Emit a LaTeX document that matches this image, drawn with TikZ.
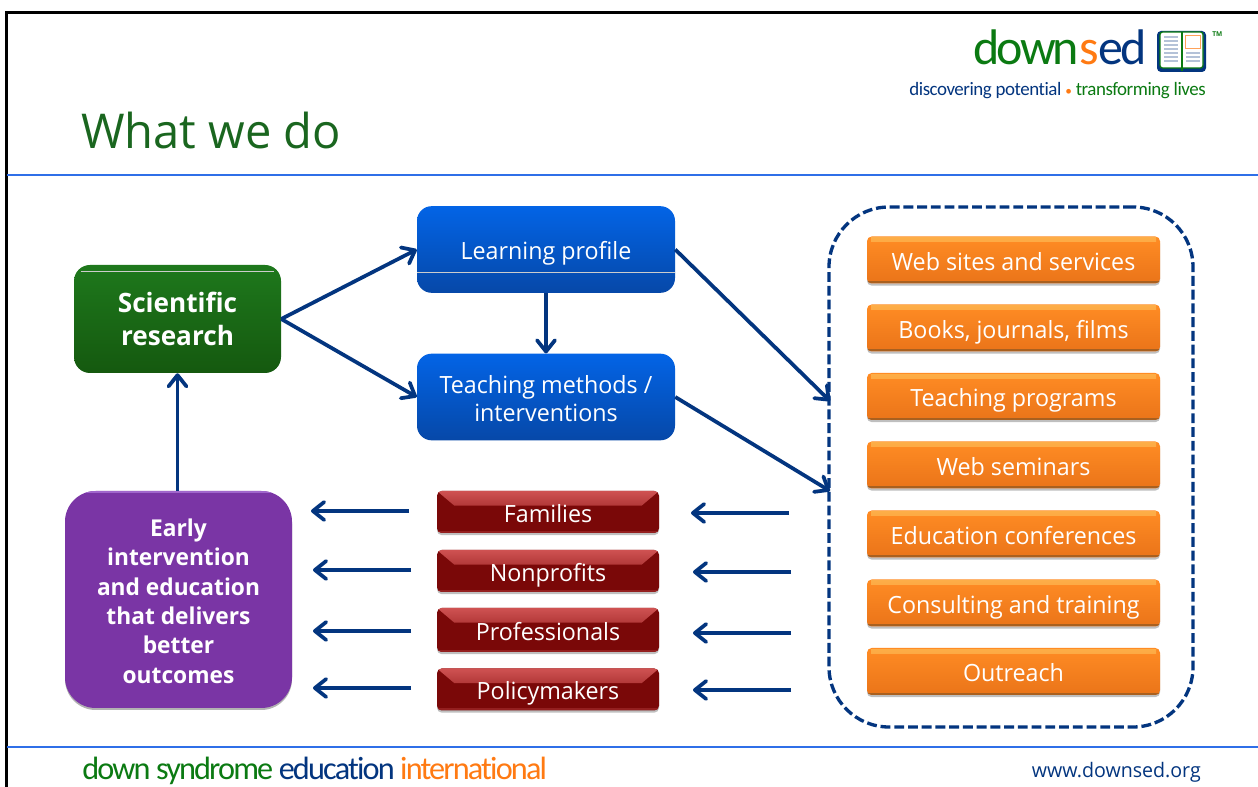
\documentclass[tikz,border=0pt]{standalone}
\usepackage{fontspec}
\usetikzlibrary{arrows.meta,shadows}
\setmainfont[FakeStretch=0.98]{Open Sans}
\newfontfamily\logofont[LetterSpace=-6,Ligatures=NoCommon]{Carlito}
\newfontfamily\tagfont[LetterSpace=-2.4,Ligatures=NoCommon]{Carlito}
\newfontfamily\footfont[LetterSpace=-5.7,Ligatures=NoCommon]{Carlito}
\newcommand\dn[1]{\raisebox{0pt}[15.4pt][0pt]{#1}}
\definecolor{navy}{HTML}{03357F}
\definecolor{titlegreen}{HTML}{1A661F}
\definecolor{logogreen}{HTML}{0B7A12}
\definecolor{logoorange}{HTML}{FF7A12}
\definecolor{rule}{HTML}{2F6FE8}
\definecolor{green1}{HTML}{1E781C}
\definecolor{green2}{HTML}{15590F}
\definecolor{blue1}{HTML}{0364E6}
\definecolor{blue2}{HTML}{0648A8}
\definecolor{orange1}{HTML}{FF8C24}
\definecolor{orange2}{HTML}{EA7419}
\definecolor{orange3}{HTML}{FDAE48}
\definecolor{orange4}{HTML}{A9601F}
\definecolor{red1}{HTML}{7A0808}
\definecolor{red3}{HTML}{CF5252}
\definecolor{red4}{HTML}{941F1F}
\definecolor{purple1}{HTML}{7A35A5}
\definecolor{purple2}{HTML}{A066CC}
\tikzset{
  x=0.75pt,y=-0.75pt,
  boxbase/.style={rectangle,inner sep=0pt,align=center,text=white,font=\fontsize{17.8}{21}\selectfont},
  sheen/.style={white!80!black,line width=0.6pt,sharp corners},
  greenbox/.style={boxbase,minimum width=155.25pt,minimum height=81pt,rounded corners=12pt,top color=green1,bottom color=green2,
    font=\fontsize{20}{24.6}\selectfont\bfseries,
    path picture={\draw[sheen] ([xshift=5pt,yshift=-5pt]path picture bounding box.north west) -- ([xshift=-5pt,yshift=-5pt]path picture bounding box.north east);}},
  bluebox/.style={boxbase,minimum width=193.5pt,minimum height=65pt,rounded corners=11pt,top color=blue1,bottom color=blue2},
  blueline/.style={bluebox,path picture={\draw[sheen] ([yshift=15.5pt]path picture bounding box.south west) -- ([yshift=15.5pt]path picture bounding box.south east);}},
  orangebox/.style={boxbase,minimum width=219.75pt,minimum height=35.25pt,rounded corners=3.5pt,top color=orange1,bottom color=orange2,
    drop shadow={shadow xshift=0pt,shadow yshift=-1.6pt,opacity=.25,fill=black},
    path picture={
      \shade[sharp corners,top color=orange3,bottom color=orange1] ([xshift=3pt,yshift=-1pt]path picture bounding box.north west) rectangle ([xshift=-3pt,yshift=-4pt]path picture bounding box.north east);
      \fill[sharp corners,orange4] (path picture bounding box.south west) rectangle ([yshift=1.8pt]path picture bounding box.south east);}},
  redbox/.style={boxbase,minimum width=166.5pt,minimum height=31.5pt,rounded corners=3.5pt,fill=red1,
    drop shadow={shadow xshift=0pt,shadow yshift=-1.6pt,opacity=.25,fill=black},
    path picture={
      \shade[sharp corners,top color=red3,bottom color=red1]
        (path picture bounding box.north west) -- (path picture bounding box.north east)
        -- ([xshift=-13pt,yshift=-11pt]path picture bounding box.north east)
        -- ([xshift=13pt,yshift=-11pt]path picture bounding box.north west) -- cycle;
      \fill[sharp corners,red4] (path picture bounding box.south west) rectangle ([yshift=1.5pt]path picture bounding box.south east);}},
  purplebox/.style={boxbase,minimum width=170.25pt,minimum height=162.75pt,rounded corners=23pt,fill=purple1,
    font=\fontsize{17.4}{22}\selectfont\bfseries,
    drop shadow={shadow xshift=0pt,shadow yshift=-1.5pt,opacity=.3,fill=black},
    path picture={\fill[sharp corners,purple2] (path picture bounding box.north west) rectangle ([yshift=-1.6pt]path picture bounding box.north east);}},
  dashbox/.style={rectangle,draw=navy,line width=2.5pt,dash pattern=on 7.4pt off 2.9pt,rounded corners=45pt,minimum width=273pt,minimum height=390pt,inner sep=0pt},
  flow/.style={draw=navy,line width=2.8pt,-{Straight Barb[length=8.5pt,width=13.5pt,line width=2.8pt,round]}},
  hrule/.style={draw=rule,line width=0.9pt},
  edge line/.style={draw=black,line width=2.2pt},
}
\begin{document}
\begin{tikzpicture}
\useasboundingbox (0,0) rectangle (1258,787);
\fill[white] (0,0) rectangle (1258,787);
% frame
\draw[edge line] (6.5,787) -- (6.5,12.5) -- (1258,12.5);
\draw[hrule] (7,175) -- (1258,175);
\draw[hrule] (7,747) -- (1258,747);
% title
\node[anchor=base west,inner sep=0pt,text=titlegreen,font=\fontsize{36}{40}\selectfont] (title) at (81,149) {What we do};
% logo
\node[anchor=base east,inner sep=0pt,font=\logofont\fontsize{37.5}{40}\selectfont] (logo) at (1147,65)
  {\textcolor{logogreen}{down}\textcolor{logoorange}{s}\textcolor{navy}{ed}};
\node[anchor=base east,inner sep=0pt,font=\tagfont\fontsize{14.2}{16}\selectfont] (tagline) at (1206,96)
  {\textcolor{navy}{discovering potential} {\fontsize{10}{10}\selectfont\textcolor{logoorange}{•}} \textcolor{logogreen}{transforming lives}};
\node[anchor=base west,inner sep=0pt,text=logogreen,font=\fontsize{5}{5}\selectfont\bfseries] (tm) at (1212,37) {TM};
% book icon
\fill[navy,rounded corners=3pt] (1157,31) rectangle (1206,72);
\draw[logogreen,fill=white,line width=0.9pt,rounded corners=2pt] (1160,32) rectangle (1203,68);
\draw[logogreen,line width=0.9pt] (1182,32) -- (1182,71);
\foreach \yy in {37,41,45,49,53,57,61} \draw[navy!30,line width=1.6pt] (1164,\yy) -- (1178,\yy);
\foreach \yy in {53,57,61} \draw[navy!30,line width=1.6pt] (1186,\yy) -- (1200,\yy);
\draw[logoorange!70,line width=0.7pt] (1185,35) rectangle (1200,48);
% container
\node[dashbox] (outlets) at (1011,467) {};
% boxes
\node[greenbox] (sci) at (177.5,319) {\dn{Scientific}\\\dn{research}};
\node[blueline] (lp) at (546,249.5) {\dn{Learning profile}};
\node[bluebox] (tm2) at (546,397) {\dn{Teaching methods /}\\\dn{interventions}};
\node[purplebox] (early) at (178.5,599.5) {\dn{Early}\\\dn{intervention}\\\dn{and education}\\\dn{that delivers}\\\dn{better}\\\dn{outcomes}};
\node[redbox] (fam) at (548,512) {\dn{Families}};
\node[redbox] (non) at (548,571) {\dn{Nonprofits}};
\node[redbox,minimum height=33pt] (pro) at (548,630) {\dn{Professionals}};
\node[redbox] (pol) at (548,689.5) {\dn{Policymakers}};
\node[orangebox] (o1) at (1013.5,260) {\dn{Web sites and services}};
\node[orangebox] (o2) at (1013.5,328) {\dn{Books, journals, films}};
\node[orangebox] (o3) at (1013.5,396.5) {\dn{Teaching programs}};
\node[orangebox] (o4) at (1013.5,465) {\dn{Web seminars}};
\node[orangebox] (o5) at (1013.5,534) {\dn{Education conferences}};
\node[orangebox] (o6) at (1013.5,603) {\dn{Consulting and training}};
\node[orangebox] (o7) at (1013.5,671.5) {\dn{Outreach}};
% footer
\node[anchor=base west,inner sep=0pt,font=\footfont\fontsize{24.2}{26}\selectfont] (foot) at (82,780)
  {\textcolor{logogreen}{down syndrome} \textcolor{navy}{education} \textcolor{logoorange}{international}};
\node[anchor=base east,inner sep=0pt,text=navy,font=\fontsize{15}{18}\selectfont] (url) at (1201,778) {www.downsed.org};
% connector ends
\coordinate (a1) at (830,401);
\coordinate (a2) at (830,491);
\coordinate (l1s) at (409,511); \coordinate (l1e) at (311,511);
\coordinate (l2s) at (411,570); \coordinate (l2e) at (313,570);
\coordinate (l3s) at (411,631); \coordinate (l3e) at (313,631);
\coordinate (l4s) at (411,688); \coordinate (l4e) at (313,688);
\coordinate (r1s) at (789,513); \coordinate (r1e) at (691,513);
\coordinate (r2s) at (791,572); \coordinate (r2e) at (693,572);
\coordinate (r3s) at (791,633); \coordinate (r3e) at (693,633);
\coordinate (r4s) at (791,690); \coordinate (r4e) at (693,690);
% connectors
\draw[flow] (sci.east) -- (lp.west);
\draw[flow] (sci.east) -- (tm2.west);
\draw[flow] (sci.south |- early.north) -- (sci.south);
\draw[flow] (lp.south) -- (tm2.north);
\draw[flow] (lp.east) -- (a1);
\draw[flow] (tm2.east) -- (a2);
\foreach \i in {1,2,3,4} {
  \draw[flow] (l\i s) -- (l\i e);
  \draw[flow] (r\i s) -- (r\i e);
}
\end{tikzpicture}
\end{document}
